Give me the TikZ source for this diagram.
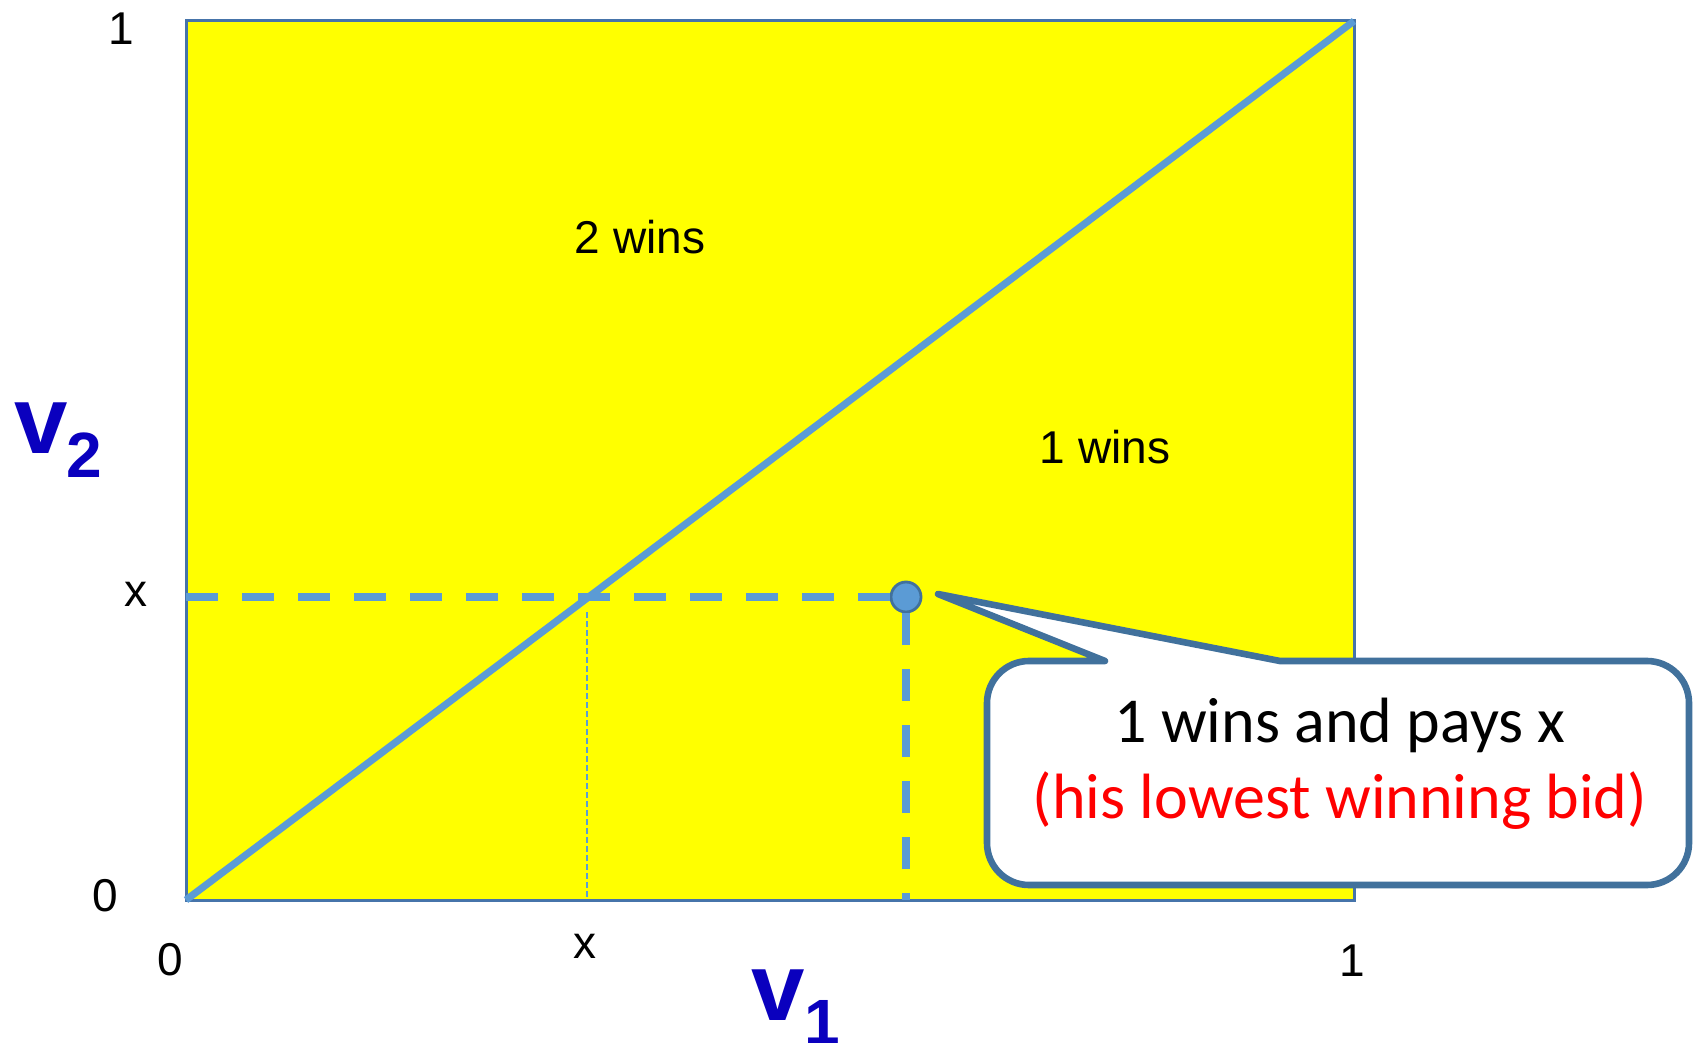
\documentclass[tikz,border=0pt]{standalone}
\usepackage{fontspec}
\setmainfont{Liberation Sans}
\newfontfamily\calfont{Carlito}
\definecolor{lineblue}{RGB}{91,155,213}
\definecolor{edgeblue}{RGB}{70,116,170}
\definecolor{callblue}{RGB}{65,113,156}
\definecolor{axisblue}{RGB}{10,0,190}
\definecolor{regionyellow}{RGB}{255,255,0}
\definecolor{bidred}{RGB}{255,0,0}
\begin{document}
\begin{tikzpicture}[x=0.5pt,y=-0.5pt,
  ticklabel/.style={font=\fontsize{23}{27}\selectfont, inner sep=0pt, anchor=base},
  axisv/.style={font=\fontsize{48}{56}\selectfont\bfseries, text=axisblue, inner sep=0pt, anchor=base west},
  axissub/.style={font=\fontsize{32}{38}\selectfont\bfseries, text=axisblue, inner sep=0pt, anchor=base west},
  region/.style={fill=regionyellow, draw=edgeblue, line width=1.5pt},
  diag/.style={draw=lineblue, line width=3.6pt},
  guide/.style={draw=lineblue, line width=3.6pt, dash pattern=on 16pt off 12pt},
  thinguide/.style={draw=lineblue, line width=1pt, dash pattern=on 3pt off 1.5pt},
  bidpoint/.style={circle, fill=lineblue, draw=callblue, line width=1.4pt, minimum size=15pt, inner sep=0pt},
  callout/.style={fill=white, draw=callblue, line width=3.3pt, line join=round, line cap=round},
  calltext/.style={font=\calfont\fontsize{32}{38}\selectfont, inner sep=0pt, anchor=base}
]
\useasboundingbox (0,0) rectangle (1698,1043);

% square region
\coordinate (O) at (186,900);
\coordinate (TR) at (1354,21);
\path[region] (O) rectangle (TR);

% coordinates
\coordinate (xleft) at (186,597);
\coordinate (xcross) at (587,612);
\coordinate (xfoot) at (587,900);
\coordinate (dfoot) at (906,900);

% diagonal
\draw[diag] (O) -- (TR);

% dot
\node[bidpoint] (dot) at (906,597) {};

% guides
\draw[guide] (xleft) -- (dot.west);
\draw[guide] (dot.south) -- (dfoot);
\draw[thinguide] (xcross) -- (xfoot);

% labels
\node[ticklabel] (one-y) at (121,45) {1};
\node[ticklabel] (x-y) at (136,606) {x};
\node[ticklabel] (zero-y) at (105,911) {0};
\node[ticklabel] (zero-x) at (170,975) {0};
\node[ticklabel] (x-x) at (585,958) {x};
\node[ticklabel] (one-x) at (1352,976) {1};
\node[ticklabel] (twowins) at (640,254) {2 wins};
\node[ticklabel] (onewins) at (1105,463) {1 wins};

% axis names
\node[axisv] (v2) at (14,453) {v};
\node[axissub] (v2sub) at (66,477) {2};
\node[axisv] (v1) at (751,1020) {v};
\node[axissub] (v1sub) at (804,1044) {1};

% callout
\draw[callout] (1105,661) -- (938,594) -- (1280,661) -- (1647,661)
  .. controls (1670.2,661) and (1689,679.8) .. (1689,703) -- (1689,843)
  .. controls (1689,866.2) and (1670.2,885) .. (1647,885) -- (1029,885)
  .. controls (1005.8,885) and (987,866.2) .. (987,843) -- (987,703)
  .. controls (987,679.8) and (1005.8,661) .. (1029,661) -- cycle;
\node[calltext] (line1) at (1340,742) {1 wins and pays x};
\node[calltext, text=bidred] (line2) at (1340,818) {(his lowest winning bid)};
\end{tikzpicture}
\end{document}
